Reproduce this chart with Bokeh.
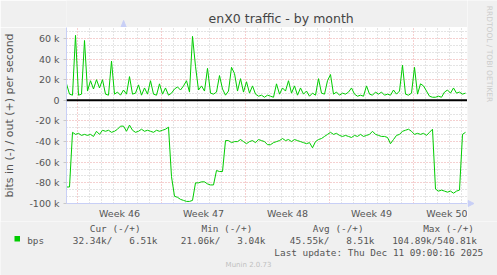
import math
from bokeh.plotting import figure
from bokeh.layouts import column, row
from bokeh.models import (Range1d, FixedTicker, Label, Span, PolyAnnotation, BoxAnnotation,
                          ColumnDataSource)
from bokeh.embed import file_html
from bokeh.resources import INLINE

# ---------------- data ----------------
# sample times: days since the left edge of the graph (4-hour samples)
t_days = [i * 0.25 for i in range(134)]

# outgoing traffic (+), kbit/s
out_k = [16, 6, 5, 63, 5, 6, 58, 9, 19, 11, 20, 12, 20, 6, 5, 38, 6, 8, 5, 10,
         6, 23, 6, 7, 15, 5, 12, 6, 19, 6, 5, 16, 6, 12, 5, 7, 11, 13, 10, 14,
         19, 8, 62, 33, 10, 14, 9, 31, 7, 6, 8, 24, 11, 5, 9, 32, 26, 9, 21, 8,
         18, 7, 14, 6, 4, 5, 3, 5, 4, 3, 16, 6, 12, 9, 19, 7, 14, 5, 12, 6,
         9, 4, 7, 5, 21, 7, 6, 19, 25, 6, 8, 5, 7, 6, 8, 12, 6, 4, 5, 4,
         14, 6, 5, 8, 6, 8, 5, 6, 5, 10, 6, 9, 34, 6, 5, 7, 32, 6, 16, 14,
         9, 4, 3, 3, 4, 3, 8, 10, 7, 12, 7, 8, 6, 7]

# incoming traffic (-), kbit/s (drawn negative)
in_k = [-84, -84, -31, -33, -32, -34, -33, -34, -33, -35, -30, -33, -29, -30, -29, -31, -30, -28, -25, -25,
        -30, -24, -29, -31, -30, -28, -30, -29, -30, -31, -29, -30, -29, -28, -26, -74, -93, -94, -96, -97,
        -98, -98, -97, -80, -80, -79, -79, -81, -82, -82, -68, -69, -69, -39, -39, -41, -40, -40, -38, -40,
        -42, -40, -39, -41, -38, -39, -40, -43, -43, -41, -40, -39, -37, -39, -38, -40, -38, -39, -40, -41,
        -42, -41, -46, -40, -38, -37, -35, -33, -31, -33, -32, -34, -35, -34, -35, -36, -34, -35, -33, -35,
        -34, -33, -30, -33, -34, -35, -35, -36, -42, -38, -34, -33, -30, -29, -28, -30, -33, -32, -33, -32,
        -34, -31, -28, -86, -88, -87, -88, -89, -88, -90, -88, -87, -33, -31]

y_ticks = [-100, -80, -60, -40, -20, 0, 20, 40, 60]
y_tick_labels = ["-100 k", "-80 k", "-60 k", "-40 k", "-20 k", "0", "20 k", "40 k", "60 k"]

week_bounds = [0.92, 7.92, 14.92, 21.92, 28.92]
week_mids = [4.42, 11.42, 18.42, 25.42, 32.42]
week_labels = ["Week 46", "Week 47", "Week 48", "Week 49", "Week 50"]

legend_headers = ["Cur (-/+)", "Min (-/+)", "Avg (-/+)", "Max (-/+)"]
legend_values = ["32.34k/   6.51k", "21.06k/   3.04k", "45.55k/   8.51k", "104.89k/540.81k"]
series_name = "bps"
title_text = "enX0 traffic - by month"
ylabel_text = "bits in (-) / out (+) per second"
last_update = "Last update: Thu Dec 11 09:00:16 2025"
footer = "Munin 2.0.73"
side_text = "RRDTOOL / TOBI OETIKER"

# ---------------- layout ----------------
W, H = 497, 275
FL, FR, FT, FB = 66, 467, 27, 203   # graph area edges in page pixels
LEG_TOP = 221                        # top of the legend strip
BG = "#f0f0f0"
GREEN = "#00cc00"
TXT = "#555555"
AXIS = "#c8cff6"
MONO = "DejaVu Sans Mono"
NBSP = "\u00a0"


def keep_spaces(s):
    return s.replace(" ", NBSP)


def blank(w, h, x0, y0):
    """A plain panel whose data coordinates equal page pixels."""
    f = figure(width=w, height=h, output_backend="svg", toolbar_location=None, title=None,
               x_range=Range1d(x0, x0 + w), y_range=Range1d(y0 + h, y0),
               x_axis_type=None, y_axis_type=None, min_border=0)
    f.min_border_left = f.min_border_right = f.min_border_top = f.min_border_bottom = 0
    f.xgrid.visible = False
    f.ygrid.visible = False
    f.outline_line_color = None
    f.background_fill_color = BG
    f.border_fill_color = BG
    return f


def lab(f, text, x, y, size, color, font="DejaVu Sans", align="left", baseline="middle", angle=0.0):
    f.add_layout(Label(x=x, y=y, text=text, text_font=font, text_font_size=size,
                       text_color=color, text_align=align, text_baseline=baseline, angle=angle))


# --- main chart ---
p = figure(width=FR, height=LEG_TOP - FT, output_backend="svg", toolbar_location=None, title=None,
           x_range=Range1d(0, (FR - FL) / 12.0), y_range=Range1d(-100, 70.6),
           min_border_left=FL, min_border_right=0, min_border_top=0,
           min_border_bottom=LEG_TOP - FB)
p.border_fill_color = BG
p.background_fill_color = "white"
p.outline_line_color = None

minor_y = [-100 + k * 20.0 / 3 for k in range(27)]
minor_y = [v for v in minor_y if all(abs(v - m) > 0.01 for m in y_ticks)]
p.ygrid.ticker = FixedTicker(ticks=y_ticks, minor_ticks=minor_y)
minor_x = [week_bounds[0] + k for k in range(-1, 34)]
minor_x = [v for v in minor_x if all(abs(v - m) > 0.01 for m in week_bounds)]
p.xgrid.ticker = FixedTicker(ticks=week_bounds, minor_ticks=minor_x)
for g in (p.xgrid, p.ygrid):
    g.grid_line_color = "#eba0a0"
    g.grid_line_dash = "1 2"
    g.grid_line_width = 1
    g.minor_grid_line_color = "#c8c8c8"
    g.minor_grid_line_dash = "1 2"
    g.minor_grid_line_width = 1

p.yaxis.ticker = FixedTicker(ticks=y_ticks)
p.yaxis.major_label_overrides = {v: s for v, s in zip(y_ticks, y_tick_labels)}
p.xaxis.ticker = FixedTicker(ticks=week_mids)
p.xaxis.major_label_overrides = {v: s for v, s in zip(week_mids, week_labels)}
for ax in (p.xaxis, p.yaxis):
    ax.axis_line_color = AXIS
    ax.axis_line_width = 1
    ax.minor_tick_line_color = None
    ax.major_label_text_font = "DejaVu Sans"
    ax.major_label_text_font_size = "9.5px"
    ax.major_label_text_color = TXT
p.xaxis.major_tick_line_color = None
p.xaxis.major_tick_out = 0
p.xaxis.major_label_standoff = 4
p.yaxis.major_tick_line_color = "#c8c8c8"
p.yaxis.major_tick_out = 3
p.yaxis.major_tick_in = 0
p.yaxis.major_label_standoff = 4
p.yaxis.axis_label = ylabel_text
p.yaxis.axis_label_text_font = "DejaVu Sans"
p.yaxis.axis_label_text_font_size = "11px"
p.yaxis.axis_label_text_font_style = "normal"
p.yaxis.axis_label_text_color = TXT
p.yaxis.axis_label_standoff = 10

src = ColumnDataSource(dict(t=t_days, out=out_k, inn=in_k))
p.add_layout(Span(location=0, dimension="width", line_color="black", line_width=2))
p.line("t", "inn", source=src, line_color=GREEN, line_width=1)
p.line("t", "out", source=src, line_color=GREEN, line_width=1)

# --- title strip ---
top = blank(FR, FT, 0, 0)
lab(top, title_text, 250, 17.5, "12.5px", "#444444", align="center", baseline="middle")
top.add_layout(PolyAnnotation(xs=[66.5, 63.5, 69.5], ys=[20, 26.5, 26.5],
                              fill_color=AXIS, fill_alpha=1, line_color=AXIS, line_alpha=1))

# --- right strip ---
side = blank(W - FR, LEG_TOP, FR, 0)
lab(side, side_text, 488.5, 53.5, "7.5px", "#cccccc", align="center", angle=-math.pi / 2)
side.add_layout(PolyAnnotation(xs=[473.5, 467.5, 467.5], ys=[203, 200, 206],
                               fill_color=AXIS, fill_alpha=1, line_color=AXIS, line_alpha=1))

# --- legend strip ---
leg = blank(W, H - LEG_TOP, 0, LEG_TOP)
for txt, x in zip(legend_headers, [89.3, 201.0, 312.3, 422.7]):
    lab(leg, keep_spaces(txt), x, 228, "9.4px", TXT, font=MONO)
lab(leg, series_name, 26.7, 240, "9.4px", TXT, font=MONO)
for txt, x in zip(legend_values, [72.3, 180.3, 289.3, 391.7]):
    lab(leg, keep_spaces(txt), x, 240, "9.4px", TXT, font=MONO)
lab(leg, keep_spaces(last_update), 482.7, 251.5, "9.4px", TXT, font=MONO, align="right")
lab(leg, footer, 248, 264.5, "7px", "#c0c0c0", align="center")
leg.add_layout(BoxAnnotation(left=14, right=19.5, top=235.5, bottom=241,
                             fill_color=GREEN, fill_alpha=1, line_color=None))

layout = column(row(column(top, p, spacing=0), side, spacing=0), leg, spacing=0)
open("out.html", "w").write(file_html(layout, INLINE))
